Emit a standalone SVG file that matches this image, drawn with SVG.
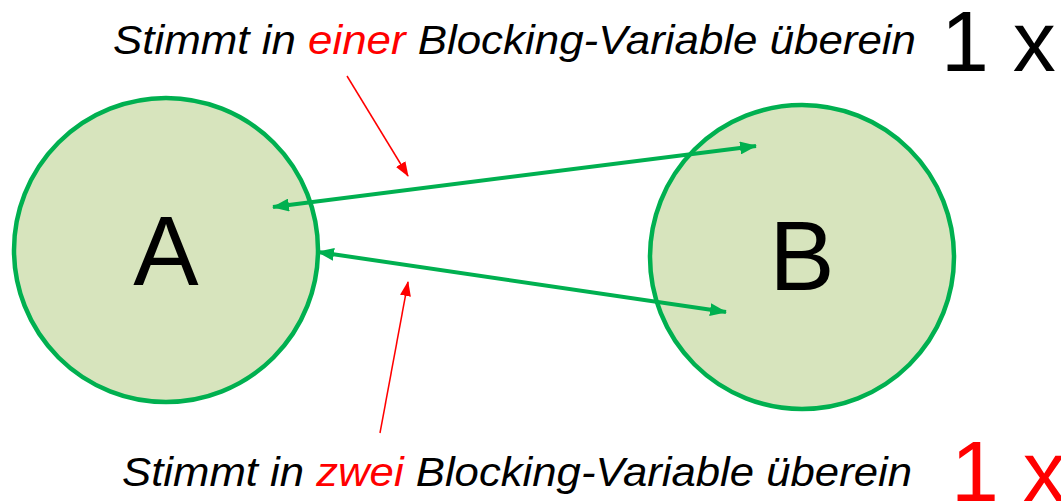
<svg xmlns="http://www.w3.org/2000/svg" width="1061" height="504" viewBox="0 0 1061 504">
  <style>
    .node circle { fill: #D7E4BD; stroke: #00B050; stroke-width: 4.5; }
    .node text { font-family: "Liberation Sans", Arial, sans-serif; font-size: 98px; fill: #000; text-anchor: middle; }
    .caption { font-family: "Liberation Sans", Arial, sans-serif; font-style: italic; font-size: 41px; fill: #000; }
    .hl { fill: #FF0000; }
    .count { font-family: "Liberation Sans", Arial, sans-serif; font-size: 86px; }
    .link { stroke: #00B050; stroke-width: 4; fill: none; }
    .pointer { stroke: #FF0000; stroke-width: 1.5; fill: none; }
  </style>
  <defs>
    <marker id="greenHead" markerUnits="userSpaceOnUse" viewBox="0 0 17 13" refX="16" refY="6.5" markerWidth="17" markerHeight="13" orient="auto-start-reverse">
      <path d="M0,0 L17,6.5 L0,13 Z" fill="#00B050"/>
    </marker>
    <marker id="redHead" markerUnits="userSpaceOnUse" viewBox="0 0 15 11" refX="14" refY="5.5" markerWidth="15" markerHeight="11" orient="auto">
      <path d="M0,0 L15,5.5 L0,11 Z" fill="#FF0000"/>
    </marker>
  </defs>

  <!-- nodes -->
  <g id="node-A" class="node">
    <circle cx="166" cy="250" r="152"/>
    <text x="166" y="285">A</text>
  </g>
  <g id="node-B" class="node">
    <circle cx="802" cy="257" r="152"/>
    <text x="802" y="290">B</text>
  </g>

  <!-- connectors -->
  <g id="connectors">
    <line class="link" x1="273" y1="207" x2="756" y2="146" marker-start="url(#greenHead)" marker-end="url(#greenHead)"/>
    <line class="link" x1="318" y1="252" x2="726" y2="312" marker-start="url(#greenHead)" marker-end="url(#greenHead)"/>
    <line class="pointer" x1="347" y1="76" x2="408" y2="176" marker-end="url(#redHead)"/>
    <line class="pointer" x1="380" y1="433" x2="408" y2="282" marker-end="url(#redHead)"/>
  </g>

  <!-- captions -->
  <g id="caption-top">
    <text class="caption" x="113" y="54" textLength="803" lengthAdjust="spacingAndGlyphs">Stimmt in <tspan class="hl">einer</tspan> Blocking-Variable überein</text>
    <text class="count" x="941" y="71" fill="#000">1 x</text>
  </g>
  <g id="caption-bottom">
    <text class="caption" x="122" y="486" textLength="790" lengthAdjust="spacingAndGlyphs">Stimmt in <tspan class="hl">zwei</tspan> Blocking-Variable überein</text>
    <text class="count" x="951" y="501" fill="#FF0000">1 x</text>
  </g>
</svg>
